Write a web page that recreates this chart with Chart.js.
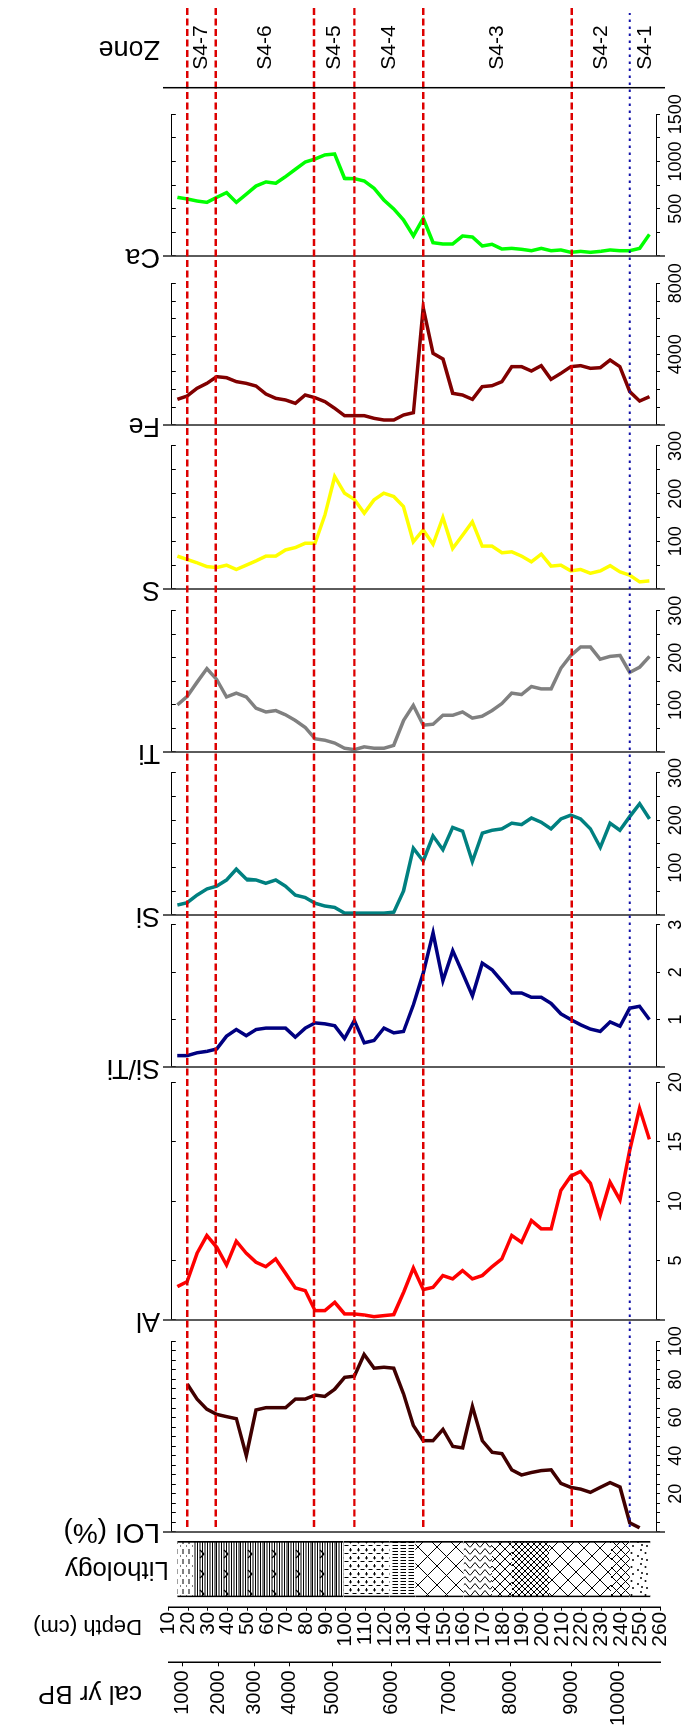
<!DOCTYPE html>
<html><head><meta charset="utf-8">
<script src="https://cdn.jsdelivr.net/npm/chart.js@4.4.1/dist/chart.umd.min.js"></script>
<style>
html,body{margin:0;padding:0;background:#fff;overflow:hidden;width:687px;height:1732px;}
#wrap{position:absolute;left:0;top:0;width:1732px;height:687px;transform-origin:0 0;transform:matrix(0,-1,1,0,0,1732);}
#wrap canvas{position:absolute;top:0;}
</style></head><body><div id="wrap"></div>
<script>
// ---------------- DATA ----------------
const depthXRF = [14.5,19.5,24.5,29.5,34.5,39.5,44.5,49.5,54.5,59.5,64.5,69.5,74.5,79.5,84.5,89.5,94.5,99.5,104.5,109.5,114.5,119.5,124.5,129.5,134.5,139.5,144.5,149.5,154.5,159.5,164.5,169.5,174.5,179.5,184.5,189.5,194.5,199.5,204.5,209.5,214.5,219.5,224.5,229.5,234.5,239.5,244.5,249.5,254.5];
const depthLOI = [19.5,24.5,29.5,34.5,39.5,44.5,49.5,54.5,59.5,64.5,69.5,74.5,79.5,84.5,89.5,94.5,99.5,104.5,109.5,114.5,119.5,124.5,129.5,134.5,139.5,144.5,149.5,154.5,159.5,164.5,169.5,174.5,179.5,184.5,189.5,194.5,199.5,204.5,209.5,214.5,219.5,224.5,229.5,234.5,239.5,244.5,249.5];

const caValues = [621,604,582,568,621,671,568,653,741,784,770,840,918,995,1027,1070,1080,822,819,794,717,593,498,381,212,399,141,127,127,212,201,106,124,74,81,71,56,81,56,64,39,49,39,49,64,56,56,81,229];
const feValues = [1449,1637,2070,2353,2729,2672,2447,2353,2202,1750,1506,1412,1223,1694,1543,1317,941,527,527,527,376,282,282,565,696,6625,4046,3726,1788,1694,1449,2164,2221,2447,3294,3294,3049,3350,2578,2917,3294,3350,3199,3237,3670,3294,1882,1355,1600];
const sValues = [69,62,55,47,45,50,41,50,59,69,69,82,87,96,96,155,236,201,188,159,187,201,194,173,99,124,94,150,85,113,141,90,90,76,78,69,57,73,48,50,38,41,33,38,49,36,29,15,17];
const tiValues = [100,118,148,177,154,117,125,117,93,85,88,79,67,52,28,25,19,8,5,11,8,8,14,67,99,57,59,78,78,85,72,76,88,103,125,122,139,134,134,178,205,223,223,197,203,205,169,180,203];
const siValues = [21,26,42,55,61,74,97,76,74,67,74,61,42,37,25,19,16,4,4,4,4,4,6,51,141,114,167,138,185,177,113,173,179,182,194,191,205,196,182,203,211,203,182,143,194,179,208,235,203];
const sitiValues = [0.24,0.24,0.30,0.33,0.38,0.65,0.79,0.66,0.79,0.82,0.82,0.82,0.63,0.82,0.93,0.91,0.87,0.60,0.98,0.51,0.56,0.82,0.72,0.75,1.31,1.98,2.83,1.82,2.45,1.98,1.50,2.19,2.05,1.81,1.56,1.56,1.47,1.47,1.34,1.12,1.00,0.89,0.80,0.75,0.95,0.86,1.24,1.28,1.00];
const alValues = [2.81,3.23,5.62,7.11,6.12,4.63,6.63,5.62,4.86,4.49,5.14,3.93,2.70,2.47,0.79,0.79,1.49,0.51,0.51,0.42,0.28,0.37,0.45,2.33,4.38,2.56,2.75,3.74,3.46,4.16,3.46,3.74,4.49,5.14,7.11,6.54,8.37,7.67,7.67,10.9,12.1,12.5,11.5,8.8,11.6,10.1,14.3,17.8,15.2];
const loiValues = [77.6,69.7,64.4,61.7,60.5,59.4,40.0,64.0,65.2,65.2,65.2,69.7,69.7,71.8,71.1,74.9,81.1,81.7,93.1,85.9,86.4,85.9,72.3,55.9,47.9,47.9,53.8,44.9,44.1,65.8,47.9,41.8,41.1,32.6,29.9,31.2,32.2,32.6,25.5,23.4,22.5,20.8,23.4,25.9,23.6,4.8,2.2];

const zoneBounds = [19.5, 34, 84, 104.5, 139.5, 215, 244.5];
const zoneNames = ['S4-7','S4-6','S4-5','S4-4','S4-3','S4-2','S4-1'];
const depthMin = 10, depthMax = 260, depthStep = 10;

const calAges = [1000,2000,3000,4000,5000,6000,7000,8000,9000,10000];
const calDepths = [17.2,35.5,53.5,71.3,93.6,123.3,152.8,184.1,215.1,239.0];

const lithoBounds = [14.5,23,99,122.5,135.5,160,174.5,184.5,203.5,235,244.5,255];
const lithoTypes = ['dash','peat','marl','lines','xbig','zig','xmed','xdense','xbig2','xmed2','dots'];

// ---------------- LAYOUT / STYLE ----------------
const FONT = "'Liberation Sans', Arial, Helvetica, 'DejaVu Sans', sans-serif";
Chart.defaults.font.family = FONT;
Chart.defaults.color = '#000';
Chart.defaults.animation = false;

const W = 1732, H = 687;
const V10 = 168.5, PX_CM = 1.967;
const vOf = d => V10 + (d - 10) * PX_CM;
const dOf = v => 10 + (v - V10) / PX_CM;
const BASE_D0 = dOf(163), BASE_D1 = dOf(665);
const PANEL_VTOP = 171.8, PANEL_VBOT = 656;
const LINE_W = 3.5;

const panels = [
  {title:'Ca', values:caValues, depths:depthXRF, color:'#00ff00', max:1500, step:250, label:500, uBase:1476, uTop:1617.7, ts:27},
  {title:'Fe', values:feValues, depths:depthXRF, color:'#800000', max:8000, step:1000, label:4000, uBase:1307, uTop:1448.7, ts:27},
  {title:'S', values:sValues, depths:depthXRF, color:'#ffff00', max:300, step:50, label:100, uBase:1143, uTop:1286, ts:27},
  {title:'Ti', values:tiValues, depths:depthXRF, color:'#808080', max:300, step:50, label:100, uBase:979.7, uTop:1121, ts:27},
  {title:'Si', values:siValues, depths:depthXRF, color:'#008080', max:300, step:50, label:100, uBase:817, uTop:959, ts:27},
  {title:'Si/Ti', values:sitiValues, depths:depthXRF, color:'#000080', max:3, step:1, label:1, uBase:664.7, uTop:807, ts:27},
  {title:'Al', values:alValues, depths:depthXRF, color:'#ff0000', max:20, step:5, label:5, uBase:412, uTop:649.7, ts:27},
  {title:'LOI (%)', values:loiValues, depths:depthLOI, color:'#400000', max:100, step:5, label:20, uBase:200.3, uTop:391, ts:28}
];

const wrap = document.getElementById('wrap');
function makeCanvas(u0, w) {
  const c = document.createElement('canvas');
  c.width = Math.round(w); c.height = H;
  c.style.left = u0 + 'px'; c.style.width = Math.round(w) + 'px'; c.style.height = H + 'px';
  wrap.appendChild(c);
  return c;
}
function rotTitle(ctx, text, u, v, size) {
  ctx.save();
  ctx.translate(u, v);
  ctx.rotate(-Math.PI / 2);
  ctx.font = size + 'px ' + FONT;
  ctx.fillStyle = '#000';
  ctx.textAlign = 'left';
  ctx.textBaseline = 'middle';
  ctx.fillText(text, 0, 0);
  ctx.restore();
}
const baseOpts = {responsive:false, animation:false, devicePixelRatio:1, events:[],
  plugins:{legend:{display:false}, tooltip:{enabled:false}}};
const zeroPad = s => { s.paddingLeft = 0; s.paddingRight = 0; s.paddingTop = 0; s.paddingBottom = 0; };

// ---------------- PANELS ----------------
panels.forEach(p => {
  const M = 30;
  const u0 = p.uBase - M;
  const c = makeCanvas(u0, (p.uTop - p.uBase) + 2 * M);
  new Chart(c, {
    type: 'scatter',
    data: {datasets: [{
      data: p.depths.map((d, i) => ({x: p.values[i], y: d})),
      showLine: true, borderColor: p.color, backgroundColor: p.color,
      borderWidth: LINE_W, pointRadius: 0, tension: 0, fill: false,
      borderJoinStyle: 'miter', borderCapStyle: 'butt'
    }]},
    options: Object.assign({}, baseOpts, {
      layout: {padding: {left: M, right: c.width - M - (p.uTop - p.uBase), top: PANEL_VTOP, bottom: 0}},
      scales: {
        x: {type:'linear', position:'bottom', min:0, max:p.max,
          ticks:{stepSize:p.step, autoSkip:false, maxRotation:0, minRotation:0, padding:5, font:{size:18},
            callback: v => (v > 0 && Math.abs(v / p.label - Math.round(v / p.label)) < 1e-6) ? String(v) : ''},
          grid:{display:true, drawOnChartArea:false, drawTicks:true, tickLength:4, color:'#000', tickColor:'#000', lineWidth:1},
          border:{display:true, color:'#000', width:1},
          afterFit: s => { s.height = H - PANEL_VBOT; zeroPad(s); }},
        x2: {type:'linear', position:'top', min:0, max:p.max,
          ticks:{display:false, stepSize:p.step},
          grid:{display:true, drawOnChartArea:false, drawTicks:true, tickLength:-4, color:'#000', tickColor:'#000', lineWidth:1},
          border:{display:true, color:'#000', width:1},
          afterFit: s => { s.height = 0; zeroPad(s); }},
        y: {type:'linear', display:false, reverse:true, min:dOf(PANEL_VTOP), max:dOf(PANEL_VBOT)}
      }
    }),
    plugins: [{id:'deco', afterDraw(chart) {
      const ctx = chart.ctx, x = chart.scales.x, y = chart.scales.y;
      const ub = x.getPixelForValue(0);
      ctx.save();
      ctx.strokeStyle = '#333'; ctx.lineWidth = 1.6;
      ctx.beginPath(); ctx.moveTo(ub, y.getPixelForValue(BASE_D0)); ctx.lineTo(ub, y.getPixelForValue(BASE_D1)); ctx.stroke();
      ctx.restore();
      rotTitle(ctx, p.title, ub, 160, p.ts);
    }}]
  });
});

// ---------------- LITHOLOGY ----------------
(function(){
  const u0 = 128, uL = 134.7, uR = 191;
  const c = makeCanvas(u0, 70);
  const cctx = c.getContext('2d');
  function makePattern(type) {
    const spec = {dash:[10,6], peat:[20,24], marl:[8,8], lines:[3,8], xbig:[19,19], zig:[7,10],
      xmed:[10,10], xdense:[6,6], xbig2:[16,16], xmed2:[9,9], dots:[14,14]}[type];
    const t = document.createElement('canvas'); t.width = spec[0]; t.height = spec[1];
    const g = t.getContext('2d'); const w = t.width, h = t.height;
    g.fillStyle = '#fff'; g.fillRect(0, 0, w, h);
    g.strokeStyle = '#000'; g.fillStyle = '#000'; g.lineWidth = 1;
    const line = (a, b, e, f) => { g.beginPath(); g.moveTo(a, b); g.lineTo(e, f); g.stroke(); };
    switch (type) {
      case 'dash': line(0, 3, 5, 3); g.fillRect(7.5, 0, 1, 1); break;
      case 'peat': g.lineWidth = 1; for (let v = 0; v < h; v += 2.5) line(0, v + 0.5, w, v + 0.5);
        g.lineWidth = 1.2; line(6, 8, 10, 12); line(10, 12, 14, 8); break;
      case 'marl': line(2.5, 0.5, 2.5, 4.5); line(4.5, 6.5, 8, 6.5); line(6, 5, 6, 8); break;
      case 'lines': line(1.5, 0.5, 1.5, 6); break;
      case 'zig': g.beginPath(); g.moveTo(0.5, 0); g.lineTo(6.5, 5); g.lineTo(0.5, 10); g.stroke(); break;
      case 'dots': [[2,3],[9,1.5],[6,8],[12,11],[3,12]].forEach(([a, b]) => { g.beginPath(); g.arc(a, b, 1, 0, 2 * Math.PI); g.fill(); }); break;
      default: line(0, 0, w, h); line(w, 0, 0, h);
    }
    return cctx.createPattern(t, 'repeat');
  }
  new Chart(c, {
    type: 'bar',
    data: {labels: ['L'], datasets: lithoTypes.map((t, i) => ({
      data: [[lithoBounds[i], lithoBounds[i + 1]]], backgroundColor: makePattern(t),
      borderColor: '#000', borderWidth: {left: 2, right: 2, top: 0, bottom: 0}, borderSkipped: false,
      grouped: false, barPercentage: 1, categoryPercentage: 1
    }))},
    options: Object.assign({}, baseOpts, {
      layout: {padding: {left: uL - u0, right: 70 - (uR - u0), top: vOf(depthMin), bottom: H - vOf(depthMax)}},
      scales: {
        x: {type: 'category', display: false},
        y: {type: 'linear', display: false, reverse: true, min: depthMin, max: depthMax}
      }
    }),
    plugins: [{id: 'lt', afterDraw(chart) { rotTitle(chart.ctx, 'Lithology', (uL + uR) / 2 - u0, 169, 26); }}]
  });
})();

// ---------------- DEPTH AXIS ----------------
(function(){
  const u0 = 40, uAxis = 124.3, w = 90;
  const c = makeCanvas(u0, w);
  new Chart(c, {
    type: 'scatter', data: {datasets: []},
    options: Object.assign({}, baseOpts, {
      layout: {padding: {left: 0, right: w - (uAxis - u0) - 1, top: vOf(depthMin), bottom: H - vOf(depthMax)}},
      scales: {
        x: {type: 'linear', display: false, min: 0, max: 1},
        y: {type: 'linear', position: 'left', reverse: true, min: depthMin, max: depthMax,
          ticks: {stepSize: depthStep, autoSkip: false, font: {size: 21}, padding: 1},
          grid: {drawOnChartArea: false, drawTicks: true, tickLength: 3, color: '#000', tickColor: '#000'},
          border: {display: true, color: '#000', width: 1.5},
          afterFit: s => { s.width = uAxis - u0; zeroPad(s); }}
      }
    }),
    plugins: [{id: 'dt', afterDraw(chart) { rotTitle(chart.ctx, 'Depth (cm)', 106 - u0, 142, 22); }}]
  });
})();

// ---------------- CAL AGE AXIS ----------------
(function(){
  const u0 = 0, uAxis = 69.7, w = 78;
  const c = makeCanvas(u0, w);
  new Chart(c, {
    type: 'scatter', data: {datasets: []},
    options: Object.assign({}, baseOpts, {
      layout: {padding: {left: 0, right: w - (uAxis - u0) - 1, top: vOf(depthMin), bottom: H - vOf(depthMax)}},
      scales: {
        x: {type: 'linear', display: false, min: 0, max: 1},
        y: {type: 'linear', position: 'left', reverse: true, min: depthMin, max: depthMax,
          afterBuildTicks: s => { s.ticks = calDepths.map(d => ({value: d})); },
          ticks: {autoSkip: false, font: {size: 20}, padding: 4, callback: (v, i) => String(calAges[i])},
          grid: {drawOnChartArea: false, drawTicks: true, tickLength: 4, color: '#000', tickColor: '#000'},
          border: {display: true, color: '#000', width: 1.5},
          afterFit: s => { s.width = uAxis - u0; zeroPad(s); }}
      }
    }),
    plugins: [{id: 'ct', afterDraw(chart) { rotTitle(chart.ctx, 'cal yr BP', 39 - u0, 142, 26); }}]
  });
})();

// ---------------- ZONES / GUIDE LINES (overlay) ----------------
(function(){
  const c = makeCanvas(0, W);
  new Chart(c, {
    type: 'scatter', data: {datasets: []},
    options: Object.assign({}, baseOpts, {
      layout: {padding: {left: 0, right: 0, top: vOf(depthMin), bottom: H - vOf(depthMax)}},
      scales: {
        x: {type: 'linear', display: false, min: 0, max: W},
        y: {type: 'linear', display: false, reverse: true, min: depthMin, max: depthMax}
      }
    }),
    plugins: [{id: 'zones', afterDraw(chart) {
      const ctx = chart.ctx, x = chart.scales.x, y = chart.scales.y;
      ctx.save();
      zoneBounds.forEach((d, i) => {
        const v = y.getPixelForValue(d);
        const last = i === zoneBounds.length - 1;
        ctx.beginPath();
        if (last) { ctx.strokeStyle = '#1010a8'; ctx.lineWidth = 2; ctx.setLineDash([2.5, 4.5]); }
        else { ctx.strokeStyle = '#dd0000'; ctx.lineWidth = 2.4; ctx.setLineDash([7, 3.5]); }
        ctx.moveTo(x.getPixelForValue(205), v);
        ctx.lineTo(x.getPixelForValue(last ? 1719 : 1724), v);
        ctx.stroke();
      });
      ctx.setLineDash([]);
      const uz = x.getPixelForValue(1644.3);
      ctx.strokeStyle = '#000'; ctx.lineWidth = 1.5;
      ctx.beginPath(); ctx.moveTo(uz, y.getPixelForValue(BASE_D0)); ctx.lineTo(uz, y.getPixelForValue(BASE_D1)); ctx.stroke();
      const ends = zoneBounds.concat([depthMax]);
      ctx.font = '21px ' + FONT; ctx.fillStyle = '#000'; ctx.textAlign = 'center'; ctx.textBaseline = 'middle';
      zoneNames.forEach((n, i) => {
        ctx.fillText(n, x.getPixelForValue(1684.5), y.getPixelForValue((ends[i] + ends[i + 1]) / 2));
      });
      ctx.restore();
      rotTitle(ctx, 'Zone', x.getPixelForValue(1684), 160, 27);
    }}]
  });
})();
</script></body></html>
